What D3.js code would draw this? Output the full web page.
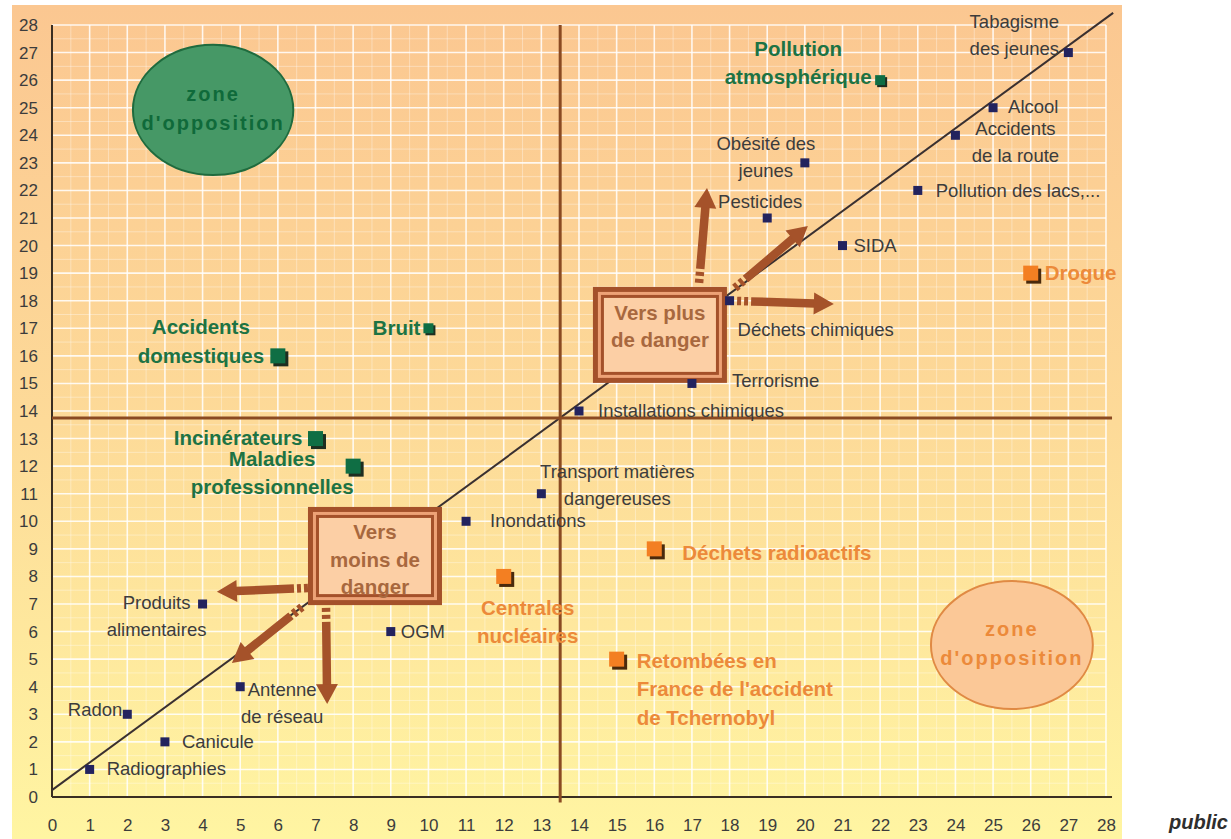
<!DOCTYPE html>
<html>
<head>
<meta charset="utf-8">
<title>Perception des risques</title>
<script src="https://d3js.org/d3.v7.min.js"></script>
<style>
  body { margin: 0; background: #fff; }
  svg { display: block; font-family: "Liberation Sans", Arial, sans-serif; }
</style>
</head>
<body>
<div id="chart"></div>
<script>
// ---- data ----
const risks = ["Radiographies", "Canicule", "Radon", "Produits alimentaires", "Antenne de réseau",
  "OGM", "Inondations", "Transport matières dangereuses", "Installations chimiques", "Terrorisme",
  "Déchets chimiques", "Pesticides", "Obésité des jeunes", "SIDA", "Pollution des lacs,...",
  "Accidents de la route", "Alcool", "Tabagisme des jeunes", "Drogue", "Pollution atmosphérique",
  "Accidents domestiques", "Bruit", "Incinérateurs", "Maladies professionnelles",
  "Centrales nucléaires", "Déchets radioactifs", "Retombées en France de l'accident de Tchernobyl"];
const xValues = [1, 3, 2, 4, 5, 9, 11, 13, 14, 17, 18, 19, 20, 21, 23, 24, 25, 27, 26, 22, 6, 10, 7, 8, 12, 16, 15];
const yValues = [1, 2, 3, 7, 4, 6, 10, 11, 14, 15, 18, 21, 23, 20, 22, 24, 25, 27, 19, 26, 16, 17, 13, 12, 8, 9, 5];
const riskGroups = ["neutre", "neutre", "neutre", "neutre", "neutre", "neutre", "neutre", "neutre", "neutre", "neutre",
  "neutre", "neutre", "neutre", "neutre", "neutre", "neutre", "neutre", "neutre", "orange", "vert",
  "vert", "vert", "vert", "vert", "orange", "orange", "orange"];
const xTicks = d3.range(0, 29);
const yTicks = d3.range(0, 29);
const diagonal = [[0, 0.25], [28.19, 28.44]];
const splitX = 13.5, splitY = 13.75;

// ---- layout / style ----
const W = 1231, H = 839;
const x = d3.scaleLinear().domain([0, 28]).range([52, 1106]);
const y = d3.scaleLinear().domain([0, 28]).range([797, 25]);

const groupStyle = {
  neutre: {size: 9, fill: "#23235e", shadow: null, text: "#3c3c3c", weight: "normal", fs: 18.5, lh: 27},
  vert:   {size: 15, fill: "#0f6e44", shadow: "#1e2e20", text: "#1d7344", weight: "bold", fs: 20.5, lh: 28.5},
  orange: {size: 15, fill: "#f37f22", shadow: "#4a2a0c", text: "#ec8a3a", weight: "bold", fs: 20.5, lh: 28.5}
};
const smallMarkers = {"Bruit": 10, "Pollution atmosphérique": 10};

// label placement relative to the marker, in pixels
const labelLayout = {
  "Radiographies": {lines: ["Radiographies"], anchor: "start", dx: 17, dy: -1},
  "Canicule": {lines: ["Canicule"], anchor: "start", dx: 17, dy: 0},
  "Radon": {lines: ["Radon"], anchor: "end", dx: -5, dy: -5},
  "Produits alimentaires": {lines: ["Produits", "alimentaires"], anchor: "middle", dx: -46, dy: -2},
  "Antenne de réseau": {lines: ["Antenne", "de réseau"], anchor: "middle", dx: 42, dy: 3},
  "OGM": {lines: ["OGM"], anchor: "start", dx: 10, dy: 0},
  "Inondations": {lines: ["Inondations"], anchor: "start", dx: 24, dy: -1},
  "Transport matières dangereuses": {lines: ["Transport matières", "dangereuses"], anchor: "middle", dx: 76, dy: -22},
  "Installations chimiques": {lines: ["Installations chimiques"], anchor: "start", dx: 19, dy: -1},
  "Terrorisme": {lines: ["Terrorisme"], anchor: "start", dx: 40, dy: -3},
  "Déchets chimiques": {lines: ["Déchets chimiques"], anchor: "start", dx: 8, dy: 29},
  "Pesticides": {lines: ["Pesticides"], anchor: "middle", dx: -7, dy: -17},
  "Obésité des jeunes": {lines: ["Obésité des", "jeunes"], anchor: "middle", dx: -39, dy: -19},
  "SIDA": {lines: ["SIDA"], anchor: "start", dx: 11, dy: 0},
  "Pollution des lacs,...": {lines: ["Pollution des lacs,..."], anchor: "start", dx: 18, dy: 0},
  "Accidents de la route": {lines: ["Accidents", "de la route"], anchor: "middle", dx: 60, dy: -7},
  "Alcool": {lines: ["Alcool"], anchor: "start", dx: 15, dy: -1},
  "Tabagisme des jeunes": {lines: ["Tabagisme", "des jeunes"], anchor: "middle", dx: -54, dy: -31},
  "Drogue": {lines: ["Drogue"], anchor: "start", dx: 14, dy: -1},
  "Pollution atmosphérique": {lines: ["Pollution", "atmosphérique"], anchor: "middle", dx: -82, dy: -32},
  "Accidents domestiques": {lines: ["Accidents", "domestiques"], anchor: "middle", dx: -77, dy: -29},
  "Bruit": {lines: ["Bruit"], anchor: "end", dx: -8, dy: -1},
  "Incinérateurs": {lines: ["Incinérateurs"], anchor: "end", dx: -13, dy: -1},
  "Maladies professionnelles": {lines: ["Maladies", "professionnelles"], anchor: "middle", dx: -81, dy: -8},
  "Centrales nucléaires": {lines: ["Centrales", "nucléaires"], anchor: "middle", dx: 24, dy: 31},
  "Déchets radioactifs": {lines: ["Déchets radioactifs"], anchor: "start", dx: 28, dy: 4},
  "Retombées en France de l'accident de Tchernobyl": {lines: ["Retombées en", "France de l'accident", "de Tchernobyl"], anchor: "start", dx: 20, dy: 1}
};

// annotations in data units
const zones = [
  {cx: 4.28, cy: 24.92, rx: 2.13, ry: 2.36, fill: "#469866", stroke: "#1f6b3e", text: "#0f6a3a"},
  {cx: 25.5, cy: 5.51, rx: 2.15, ry: 2.32, fill: "#fbc897", stroke: "#e08a44", text: "#ec8a3a"}
];
const boxes = [
  {x0: 14.37, x1: 17.93, y0: 15.02, y1: 18.5, lines: ["Vers plus", "de danger"], offs: [26, 53]},
  {x0: 6.8, x1: 10.36, y0: 6.96, y1: 10.52, lines: ["Vers", "moins de", "danger"], offs: [25, 53, 80]}
];
const arrows = [
  [[17.19, 18.65], [17.4, 22.09]],
  [[18.14, 18.46], [20.08, 20.71]],
  [[18.2, 17.99], [20.77, 17.88]],
  [[6.8, 7.58], [4.38, 7.44]],
  [[6.64, 6.89], [4.78, 4.86]],
  [[7.28, 6.86], [7.31, 3.37]]
];

const svg = d3.select("#chart").append("svg").attr("width", W).attr("height", H);
const defs = svg.append("defs");
const grad = defs.append("linearGradient").attr("id", "bg").attr("x1", 0).attr("y1", 0).attr("x2", 0).attr("y2", 1);
grad.append("stop").attr("offset", "0%").attr("stop-color", "#fbc791");
grad.append("stop").attr("offset", "50%").attr("stop-color", "#fdda98");
grad.append("stop").attr("offset", "100%").attr("stop-color", "#fff5a2");

// panel background
svg.append("rect").attr("x", 12).attr("y", 5).attr("width", 1110).attr("height", 834).attr("fill", "url(#bg)");

// grid
const grid = svg.append("g");
const minor = d3.range(0.5, 28, 1);
grid.selectAll(".mv").data(minor).join("line")
  .attr("x1", d => x(d)).attr("x2", d => x(d)).attr("y1", y(28)).attr("y2", y(0))
  .attr("stroke", "#fff").attr("stroke-opacity", 0.35).attr("stroke-width", 1);
grid.selectAll(".mh").data(minor).join("line")
  .attr("y1", d => y(d)).attr("y2", d => y(d)).attr("x1", x(0)).attr("x2", x(28))
  .attr("stroke", "#fff").attr("stroke-opacity", 0.35).attr("stroke-width", 1);
grid.selectAll(".v").data(xTicks.slice(1)).join("line")
  .attr("x1", d => x(d)).attr("x2", d => x(d)).attr("y1", y(28)).attr("y2", y(0))
  .attr("stroke", "#fff").attr("stroke-opacity", 0.85).attr("stroke-width", 1.6);
grid.selectAll(".h").data(yTicks.slice(1)).join("line")
  .attr("y1", d => y(d)).attr("y2", d => y(d)).attr("x1", x(0)).attr("x2", x(28))
  .attr("stroke", "#fff").attr("stroke-opacity", 0.85).attr("stroke-width", 1.6);

// axes
const xAxis = svg.append("g").attr("transform", `translate(0,${y(0)})`)
  .call(d3.axisBottom(x).tickValues(xTicks).tickSize(0).tickPadding(22).tickFormat(d3.format("d")));
const yAxis = svg.append("g").attr("transform", `translate(${x(0)},0)`)
  .call(d3.axisLeft(y).tickValues(yTicks).tickSize(0).tickPadding(14).tickFormat(d3.format("d")));
[xAxis, yAxis].forEach(a => {
  a.select(".domain").remove();
  a.selectAll("text").attr("font-size", 17).attr("fill", "#3c3c3c")
    .style("font-family", "'Liberation Sans', Arial, sans-serif");
});
svg.append("line").attr("x1", x(0)).attr("x2", x(28.16)).attr("y1", y(0)).attr("y2", y(0))
  .attr("stroke", "#3a2e22").attr("stroke-width", 2);
svg.append("line").attr("x1", x(0)).attr("x2", x(0)).attr("y1", y(0)).attr("y2", y(28))
  .attr("stroke", "#3a2e22").attr("stroke-width", 2);

// diagonal reference line
svg.append("path").datum(diagonal)
  .attr("d", d3.line().x(d => x(d[0])).y(d => y(d[1])))
  .attr("fill", "none").attr("stroke", "#3a3030").attr("stroke-width", 2);

// quadrant split lines
svg.append("line").attr("x1", x(splitX)).attr("x2", x(splitX)).attr("y1", y(28)).attr("y2", y(-0.2))
  .attr("stroke", "#8a4a22").attr("stroke-width", 3);
svg.append("line").attr("x1", x(0)).attr("x2", x(28.16)).attr("y1", y(splitY)).attr("y2", y(splitY))
  .attr("stroke", "#8a4a22").attr("stroke-width", 3);

// opposition zones
zones.forEach(z => {
  const cx = x(z.cx), cy = y(z.cy);
  svg.append("ellipse").attr("cx", cx).attr("cy", cy)
    .attr("rx", x(z.rx) - x(0)).attr("ry", y(0) - y(z.ry))
    .attr("fill", z.fill).attr("stroke", z.stroke).attr("stroke-width", 2);
  svg.append("text").attr("x", cx).attr("y", cy - 16).attr("text-anchor", "middle")
    .attr("dominant-baseline", "central").attr("font-weight", "bold").attr("font-size", 20)
    .attr("letter-spacing", 2).attr("fill", z.text).text("zone");
  svg.append("text").attr("x", cx).attr("y", cy + 13).attr("text-anchor", "middle")
    .attr("dominant-baseline", "central").attr("font-weight", "bold").attr("font-size", 20)
    .attr("letter-spacing", 2).attr("fill", z.text).text("d'opposition");
});

// boxes
boxes.forEach(b => {
  const bx = x(b.x0), by = y(b.y1), bw = x(b.x1) - x(b.x0), bh = y(b.y0) - y(b.y1);
  [[0, "#a4512a"], [5, "#eda276"], [8, "#a4512a"], [11, "#fccfa5"]].forEach(([i, c]) => {
    svg.append("rect").attr("x", bx + i).attr("y", by + i)
      .attr("width", bw - 2 * i).attr("height", bh - 2 * i).attr("fill", c);
  });
  b.lines.forEach((t, i) => {
    svg.append("text").attr("x", bx + bw / 2).attr("y", by + b.offs[i])
      .attr("text-anchor", "middle").attr("dominant-baseline", "central")
      .attr("font-weight", "bold").attr("font-size", 20.5).attr("fill", "#a8683e").text(t);
  });
});

// arrows
const arrowColor = "#a5522a";
arrows.forEach(([a, b]) => {
  const x0 = x(a[0]), y0 = y(a[1]), x1 = x(b[0]), y1 = y(b[1]);
  const len = Math.hypot(x1 - x0, y1 - y0);
  const ux = (x1 - x0) / len, uy = (y1 - y0) / len, px = -uy, py = ux;
  const headL = 20, headW = 11;
  const bx = x1 - ux * headL, by = y1 - uy * headL;
  svg.append("line").attr("x1", x0).attr("y1", y0).attr("x2", bx + ux).attr("y2", by + uy)
    .attr("stroke", arrowColor).attr("stroke-width", 8.5)
    .attr("stroke-dasharray", "4 3 4 3 2000");
  svg.append("polygon")
    .attr("points", [[x1, y1], [bx + px * headW, by + py * headW], [bx - px * headW, by - py * headW]].join(" "))
    .attr("fill", arrowColor);
});

// markers
const points = risks.map((r, i) => ({name: r, xv: xValues[i], yv: yValues[i], group: riskGroups[i]}));
const marks = svg.append("g");
points.forEach(p => {
  const st = groupStyle[p.group];
  const s = smallMarkers[p.name] || st.size;
  const cx = x(p.xv), cy = y(p.yv);
  if (st.shadow) {
    const off = s > 12 ? 3 : 2;
    marks.append("rect").attr("x", cx - s / 2 + off).attr("y", cy - s / 2 + off)
      .attr("width", s).attr("height", s).attr("fill", st.shadow);
  }
  marks.append("rect").attr("x", cx - s / 2).attr("y", cy - s / 2)
    .attr("width", s).attr("height", s).attr("fill", st.fill);
});

// labels
const labels = svg.append("g");
points.forEach(p => {
  const st = groupStyle[p.group];
  const L = labelLayout[p.name];
  const cx = x(p.xv), cy = y(p.yv);
  L.lines.forEach((t, i) => {
    labels.append("text")
      .attr("x", cx + L.dx).attr("y", cy + L.dy + i * st.lh)
      .attr("text-anchor", L.anchor).attr("dominant-baseline", "central")
      .attr("font-size", st.fs).attr("font-weight", st.weight).attr("fill", st.text)
      .text(t);
  });
});

// side note
svg.append("text").attr("x", 1228).attr("y", 822).attr("text-anchor", "end")
  .attr("dominant-baseline", "central").attr("font-size", 20).attr("font-weight", "bold")
  .attr("font-style", "italic").attr("fill", "#2e2e2e").text("public");
</script>
</body>
</html>
